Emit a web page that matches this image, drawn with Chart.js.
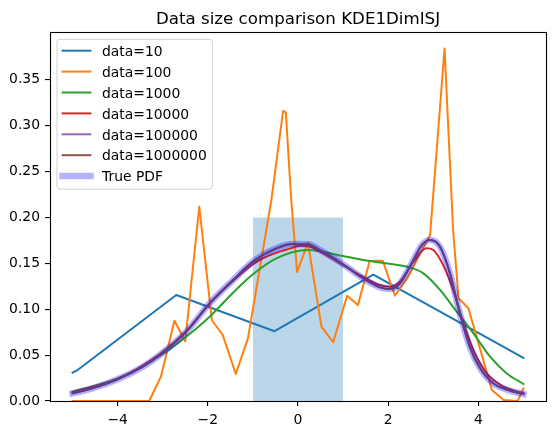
<!DOCTYPE html>
<html>
<head>
<meta charset="utf-8">
<script src="https://cdn.jsdelivr.net/npm/chart.js@4.4.1/dist/chart.umd.min.js"></script>
<style>
  html, body { margin: 0; padding: 0; background: #fff; }
  #chart { display: block; }
</style>
</head>
<body>
<canvas id="chart" width="556" height="435"></canvas>
<script>
// values
const titleText = 'Data size comparison KDE1DimISJ';
const xTicks = [-4, -2, 0, 2, 4];
const yTicks = [0, 0.05, 0.1, 0.15, 0.2, 0.25, 0.3, 0.35];
const xRange = [-5.5, 5.5];
const yRange = [0, 0.402];

// shaded box from -1 to 1, height 0.2
const boxX = [-1, 1];
const boxY = [0.2, 0.2];

const d10X = [-5, -4.88, -2.7, -0.52, 1.67, 5];
const d10Y = [0.031, 0.034, 0.1155, 0.076, 0.1376, 0.047];

const d100X = [-5, -3.3, -3.04, -2.74, -2.5, -2.19, -1.91, -1.67, -1.38, -1.11, -0.59, -0.33, -0.27, -0.15, -0.02,
  0.22, 0.52, 0.78, 1.09, 1.33, 1.59, 1.88, 2.15, 2.44, 2.93, 3.25, 3.44, 3.56, 3.78, 4.3, 4.56, 4.87, 5];
const d100Y = [0, 0, 0.0265, 0.0875, 0.065, 0.2117, 0.088, 0.072, 0.0294, 0.0683, 0.219, 0.316, 0.3145, 0.219, 0.1405,
  0.1725, 0.081, 0.064, 0.1147, 0.1046, 0.1525, 0.1528, 0.1147, 0.135, 0.181, 0.384, 0.186, 0.112, 0.101, 0.012, 0.001, 0, 0.0138];

const d1kX = [-5, -4, -3.07, -2.48, -1.96, -1.44, -1.0, -0.48, 0.22, 1.0, 1.59, 2.1, 2.48, 2.78, 3.15, 3.52, 3.89, 4.26, 4.63, 5];
const d1kY = [0.0101, 0.0245, 0.049, 0.070, 0.0918, 0.118, 0.138, 0.1554, 0.1645, 0.158, 0.1525, 0.149, 0.1456, 0.139, 0.121, 0.0973, 0.0737, 0.0483, 0.030, 0.0185];

const d10kX = [-5, -4, -3.07, -2.48, -1.96, -1.44, -1.0, -0.85, -0.41, -0.18, 0.04, 0.19, 0.48, 0.7, 1.0,
  1.44, 1.82, 2.04, 2.26, 2.56, 2.85, 3.0, 3.22, 3.44, 3.67, 3.89, 4.19, 4.56, 5];
const d10kY = [0.0092, 0.024, 0.051, 0.076, 0.106, 0.131, 0.149, 0.1536, 0.1627, 0.166, 0.169, 0.169, 0.163, 0.157, 0.148,
  0.1354, 0.1264, 0.1245, 0.130, 0.1518, 0.1663, 0.1645, 0.148, 0.121, 0.0846, 0.0556, 0.030, 0.0156, 0.0084];

// the two largest samples and the true pdf sit on the same x readings
const smoothX = [-5, -4.56, -4, -3.44, -3.07, -2.48, -1.96, -1.44, -1.0, -0.48, -0.11, 0.22, 0.5, 1.0, 1.44,
  1.82, 2.04, 2.26, 2.56, 2.75, 2.93, 3.15, 3.37, 3.59, 3.81, 4.04, 4.33, 4.7, 5];
const d100kY = [0.0084, 0.0138, 0.0236, 0.0374, 0.050, 0.0755, 0.1064, 0.1318, 0.1518, 0.1663, 0.171, 0.1707, 0.164, 0.149, 0.1337,
  0.1238, 0.122, 0.128, 0.1536, 0.170, 0.1754, 0.168, 0.139, 0.0955, 0.059, 0.0356, 0.0193, 0.0112, 0.0076];
const d1mY = [0.0084, 0.0138, 0.0236, 0.0374, 0.050, 0.0755, 0.1064, 0.1318, 0.1518, 0.1663, 0.171, 0.1707, 0.164, 0.149, 0.1337,
  0.1238, 0.122, 0.128, 0.1536, 0.170, 0.1754, 0.168, 0.139, 0.0955, 0.059, 0.0356, 0.0193, 0.0112, 0.0076];
const trueY = [0.0084, 0.0138, 0.0236, 0.0374, 0.050, 0.0755, 0.1064, 0.1318, 0.1518, 0.1663, 0.171, 0.1707, 0.164, 0.149, 0.1337,
  0.1238, 0.122, 0.128, 0.1536, 0.170, 0.1754, 0.168, 0.139, 0.0955, 0.059, 0.0356, 0.0193, 0.0112, 0.0076];

const FONT = '"DejaVu Sans", sans-serif';
const pts = (xs, ys) => xs.map((x, i) => ({ x: x, y: ys[i] }));

function kdeLine(label, xs, ys, color, order, smooth) {
  return {
    label: label,
    data: pts(xs, ys),
    borderColor: color,
    borderWidth: 2,
    borderCapStyle: 'square',
    borderJoinStyle: 'round',
    pointRadius: 0,
    fill: false,
    tension: 0,
    cubicInterpolationMode: smooth ? 'monotone' : 'default',
    order: order
  };
}

const datasets = [
  {
    data: pts(boxX, boxY),
    backgroundColor: 'rgba(31,119,180,0.3)',
    borderColor: 'rgba(0,0,0,0)',
    borderWidth: 0,
    pointRadius: 0,
    fill: 'origin',
    tension: 0,
    order: 10
  },
  kdeLine('data=10', d10X, d10Y, '#1f77b4', 7, false),
  kdeLine('data=100', d100X, d100Y, '#ff7f0e', 6, false),
  kdeLine('data=1000', d1kX, d1kY, '#2ca02c', 5, true),
  kdeLine('data=10000', d10kX, d10kY, '#d62728', 4, true),
  kdeLine('data=100000', smoothX, d100kY, '#9467bd', 3, true),
  kdeLine('data=1000000', smoothX, d1mY, '#8c564b', 2, true),
  Object.assign(kdeLine('True PDF', smoothX, trueY, 'rgba(0,0,255,0.3)', 1, true), { borderWidth: 6.5 })
];

// white page, frame, title
const frame = {
  id: 'frame',
  beforeDraw(chart) {
    const ctx = chart.ctx;
    ctx.save();
    ctx.fillStyle = '#fff';
    ctx.fillRect(0, 0, chart.width, chart.height);
    ctx.restore();
  },
  afterDraw(chart) {
    const ctx = chart.ctx, a = chart.chartArea;
    ctx.save();
    ctx.strokeStyle = '#000';
    ctx.lineWidth = 1.1;
    ctx.strokeRect(Math.round(a.left) + 0.5, Math.round(a.top) + 0.5,
      Math.round(a.right) - Math.round(a.left), Math.round(a.bottom) - Math.round(a.top));
    ctx.fillStyle = '#000';
    ctx.font = '16.67px ' + FONT;
    ctx.textAlign = 'center';
    ctx.textBaseline = 'alphabetic';
    ctx.fillText(titleText, (a.left + a.right) / 2, 24);
    ctx.restore();
  }
};

// legend inside the axes, upper left
const innerLegend = {
  id: 'innerLegend',
  afterDraw(chart) {
    const ctx = chart.ctx, a = chart.chartArea;
    const items = chart.data.datasets.filter(d => d.label);
    const fs = 13.9;
    ctx.save();
    ctx.font = fs + 'px ' + FONT;
    const maxW = Math.max(...items.map(d => ctx.measureText(d.label).width));
    const x0 = a.left + 7, y0 = a.top + 7.3;
    const rowH = 20.9;
    const hx0 = x0 + 5.6, hx1 = hx0 + 27.8, tx = hx1 + 11.6;
    const w = tx + maxW + 5.6 - x0;
    const h = 11.4 + (items.length - 1) * rowH + 13;
    const r = 2.8;
    ctx.beginPath();
    ctx.moveTo(x0 + r, y0);
    ctx.lineTo(x0 + w - r, y0);
    ctx.arcTo(x0 + w, y0, x0 + w, y0 + r, r);
    ctx.lineTo(x0 + w, y0 + h - r);
    ctx.arcTo(x0 + w, y0 + h, x0 + w - r, y0 + h, r);
    ctx.lineTo(x0 + r, y0 + h);
    ctx.arcTo(x0, y0 + h, x0, y0 + h - r, r);
    ctx.lineTo(x0, y0 + r);
    ctx.arcTo(x0, y0, x0 + r, y0, r);
    ctx.closePath();
    ctx.fillStyle = 'rgba(255,255,255,0.8)';
    ctx.fill();
    ctx.strokeStyle = 'rgba(204,204,204,0.9)';
    ctx.lineWidth = 1;
    ctx.stroke();
    items.forEach((d, i) => {
      const cy = y0 + 11.4 + i * rowH;
      ctx.beginPath();
      ctx.moveTo(hx0, cy);
      ctx.lineTo(hx1, cy);
      ctx.strokeStyle = d.borderColor;
      ctx.lineWidth = d.borderWidth;
      ctx.lineCap = 'square';
      ctx.stroke();
      ctx.fillStyle = '#000';
      ctx.textAlign = 'left';
      ctx.textBaseline = 'alphabetic';
      ctx.fillText(d.label, tx, cy + 5.2);
    });
    ctx.restore();
  }
};

const tickFont = { family: FONT, size: 13.9 };

new Chart(document.getElementById('chart'), {
  type: 'line',
  data: { datasets: datasets },
  plugins: [frame, innerLegend],
  options: {
    responsive: false,
    animation: false,
    devicePixelRatio: 1,
    events: [],
    layout: { padding: { left: 0, right: 10, top: 32, bottom: 0 } },
    plugins: { legend: { display: false }, title: { display: false }, tooltip: { enabled: false } },
    scales: {
      x: {
        type: 'linear',
        min: xRange[0],
        max: xRange[1],
        afterBuildTicks: s => { s.ticks = xTicks.map(v => ({ value: v })); },
        afterFit: s => { s.height = 34; },
        grid: { drawOnChartArea: false, drawTicks: true, tickLength: 5, color: '#000', lineWidth: 1.1 },
        border: { display: false },
        ticks: {
          font: tickFont, color: '#000', padding: 6, maxRotation: 0, autoSkip: false,
          callback: v => String(v).replace('-', '\u2212')
        }
      },
      y: {
        type: 'linear',
        min: yRange[0],
        max: yRange[1],
        afterBuildTicks: s => { s.ticks = yTicks.map(v => ({ value: v })); },
        afterFit: s => { s.width = 50; },
        grid: { drawOnChartArea: false, drawTicks: true, tickLength: 5, color: '#000', lineWidth: 1.1 },
        border: { display: false },
        ticks: {
          font: tickFont, color: '#000', padding: 5, autoSkip: false,
          callback: v => v.toFixed(2)
        }
      }
    }
  }
});
</script>
</body>
</html>
